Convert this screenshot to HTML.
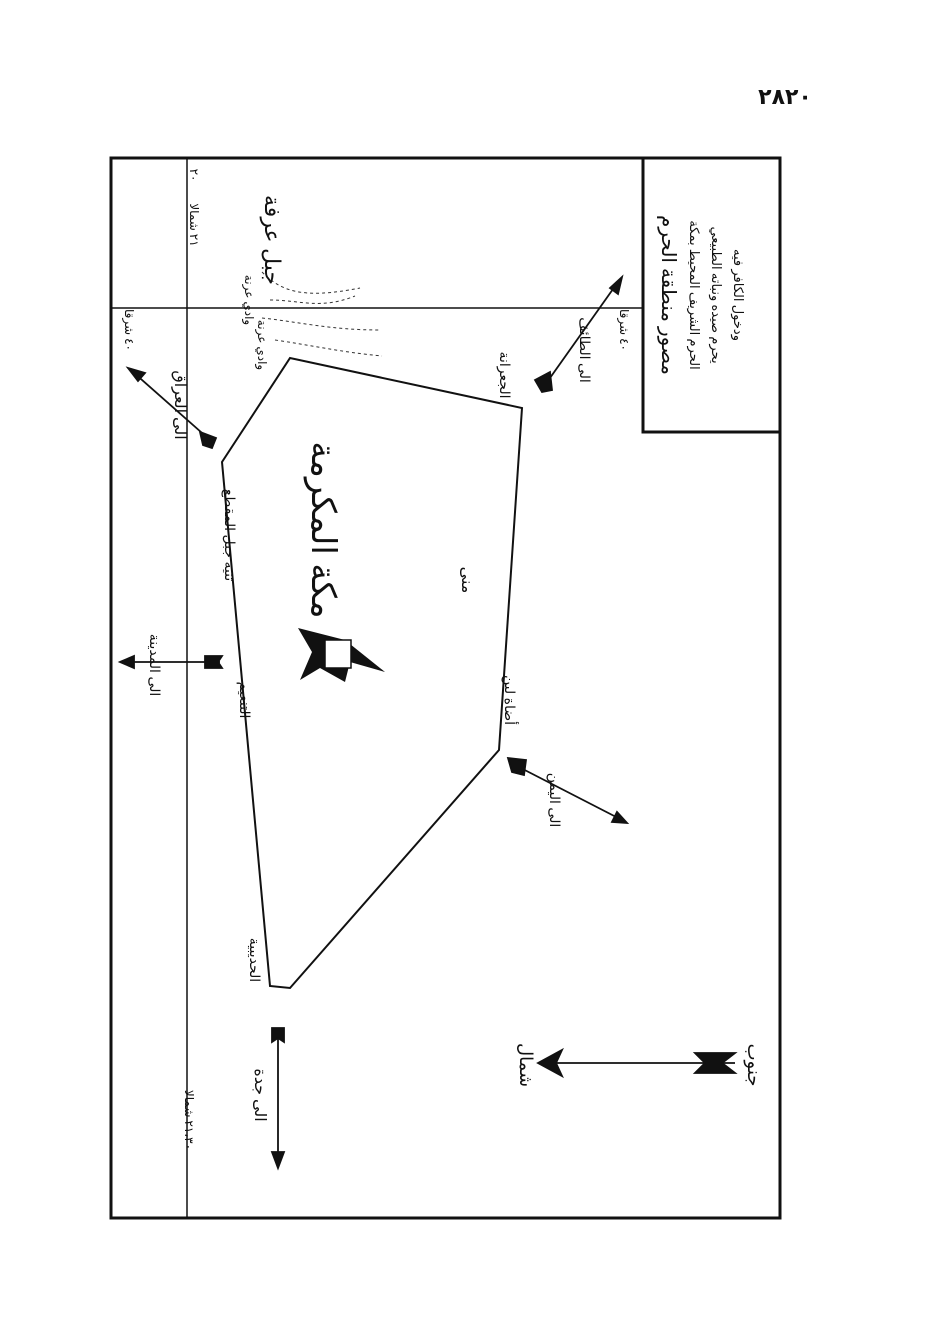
<!DOCTYPE html>
<html><head><meta charset="utf-8"><style>
html,body{margin:0;padding:0;background:#fff;}
svg{display:block;}
text{font-family:"Liberation Serif","DejaVu Sans",serif;fill:#111;}
</style></head><body>
<svg width="934" height="1341" viewBox="0 0 934 1341" xmlns="http://www.w3.org/2000/svg">
<rect width="934" height="1341" fill="#fff"/>
<text x="785" y="104" font-size="22" font-weight="bold" text-anchor="middle">٢٨٢٠</text>
<rect x="111" y="158" width="669" height="1060" fill="none" stroke="#111" stroke-width="3"/>
<line x1="187" y1="158" x2="187" y2="1218" stroke="#111" stroke-width="1.5"/>
<line x1="111" y1="308" x2="643" y2="308" stroke="#111" stroke-width="1.5"/>
<rect x="643" y="158" width="137" height="274" fill="none" stroke="#111" stroke-width="3"/>
<polygon points="222,462 290,358 522,408 499,750 290,988 270,986" fill="none" stroke="#111" stroke-width="2"/>
<polygon points="298,628 345,640 385,672 350,662 345,682 320,668 300,680 312,652" fill="#111"/>
<rect x="325" y="640" width="26" height="28" fill="#fff" stroke="#111" stroke-width="1.5"/>
<g fill="none" stroke="#333" stroke-width="1" stroke-dasharray="3,3">
<path d="M262,272 C280,290 300,300 360,288"/>
<path d="M270,300 C300,300 320,310 355,296"/>
<path d="M262,318 C300,322 330,330 380,330"/>
<path d="M275,340 C310,345 340,352 382,356"/>
</g>
<g stroke="#111" stroke-width="1.8" fill="#111">
<line x1="210" y1="440" x2="133" y2="372"/><polygon points="128,368 145,373 138,381"/><polygon points="200,432 216,438 212,448 203,445"/>
<line x1="220" y1="662" x2="125" y2="662"/><polygon points="120,662 134,656 134,668"/><polygon points="205,656 222,656 218,662 222,668 205,668"/>
<line x1="545" y1="385" x2="618" y2="282"/><polygon points="622,277 618,294 610,288"/><polygon points="535,380 550,372 552,390 542,392"/>
<line x1="515" y1="765" x2="622" y2="820"/><polygon points="627,823 612,822 617,812"/><polygon points="508,758 526,760 524,775 512,772"/>
<line x1="278" y1="1030" x2="278" y2="1162"/><polygon points="278,1168 272,1152 284,1152"/><polygon points="272,1028 284,1028 284,1042 278,1038 272,1042"/>
<line x1="540" y1="1063" x2="735" y2="1063"/><polygon points="538,1063 562,1050 556,1063 562,1076"/><polygon points="695,1053 735,1053 722,1063 735,1073 695,1073 705,1063"/>
</g>
<g font-size="16">
<text transform="translate(312,530) rotate(90)" font-size="34" text-anchor="middle">مكة المكرمة</text>
<text transform="translate(462,580) rotate(90)" text-anchor="middle">منى</text>
<text transform="translate(265,240) rotate(90)" font-size="22" text-anchor="middle">جبل عرفة</text>
<text transform="translate(190,225) rotate(90)" font-size="12" text-anchor="middle">٢١ شمالا</text>
<text transform="translate(190,175) rotate(90)" font-size="12" text-anchor="middle">٢٠</text>
<text transform="translate(125,330) rotate(90)" font-size="12" text-anchor="middle">٤٠ شرقا</text>
<text transform="translate(620,330) rotate(90)" font-size="12" text-anchor="middle">٤٠ شرقا</text>
<text transform="translate(175,405) rotate(90)" text-anchor="middle">الى العراق</text>
<text transform="translate(225,535) rotate(90)" font-size="14" text-anchor="middle">ثنية جبل المقطع</text>
<text transform="translate(240,700) rotate(90)" font-size="14" text-anchor="middle">التنعيم</text>
<text transform="translate(150,665) rotate(90)" font-size="14" text-anchor="middle">الى المدينة</text>
<text transform="translate(500,375) rotate(90)" font-size="14" text-anchor="middle">الجعرانة</text>
<text transform="translate(580,350) rotate(90)" font-size="14" text-anchor="middle">الى الطائف</text>
<text transform="translate(505,700) rotate(90)" font-size="14" text-anchor="middle">أضاة لبن</text>
<text transform="translate(550,800) rotate(90)" font-size="14" text-anchor="middle">الى اليمن</text>
<text transform="translate(250,960) rotate(90)" font-size="14" text-anchor="middle">الحديبية</text>
<text transform="translate(255,1095) rotate(90)" text-anchor="middle">الى جدة</text>
<text transform="translate(185,1120) rotate(90)" font-size="12" text-anchor="middle">٢١،٣٠ شمالا</text>
<text transform="translate(520,1065) rotate(90)" font-size="18" text-anchor="middle">شمال</text>
<text transform="translate(748,1065) rotate(90)" font-size="18" text-anchor="middle">جنوب</text>
<text transform="translate(245,300) rotate(90)" font-size="12" text-anchor="middle">وادي عرنة</text>
<text transform="translate(258,345) rotate(90)" font-size="12" text-anchor="middle">وادي عرنة</text>
<text transform="translate(662,295) rotate(90)" font-size="20" text-anchor="middle">مصور منطقة الحرم</text>
<text transform="translate(690,295) rotate(90)" font-size="13" text-anchor="middle">الحرم الشريف المحيط بمكة</text>
<text transform="translate(712,295) rotate(90)" font-size="13" text-anchor="middle">يحرم صيده ونباته الطبيعي</text>
<text transform="translate(734,295) rotate(90)" font-size="13" text-anchor="middle">ودخول الكافر فيه</text>
</g>
</svg>
</body></html>
